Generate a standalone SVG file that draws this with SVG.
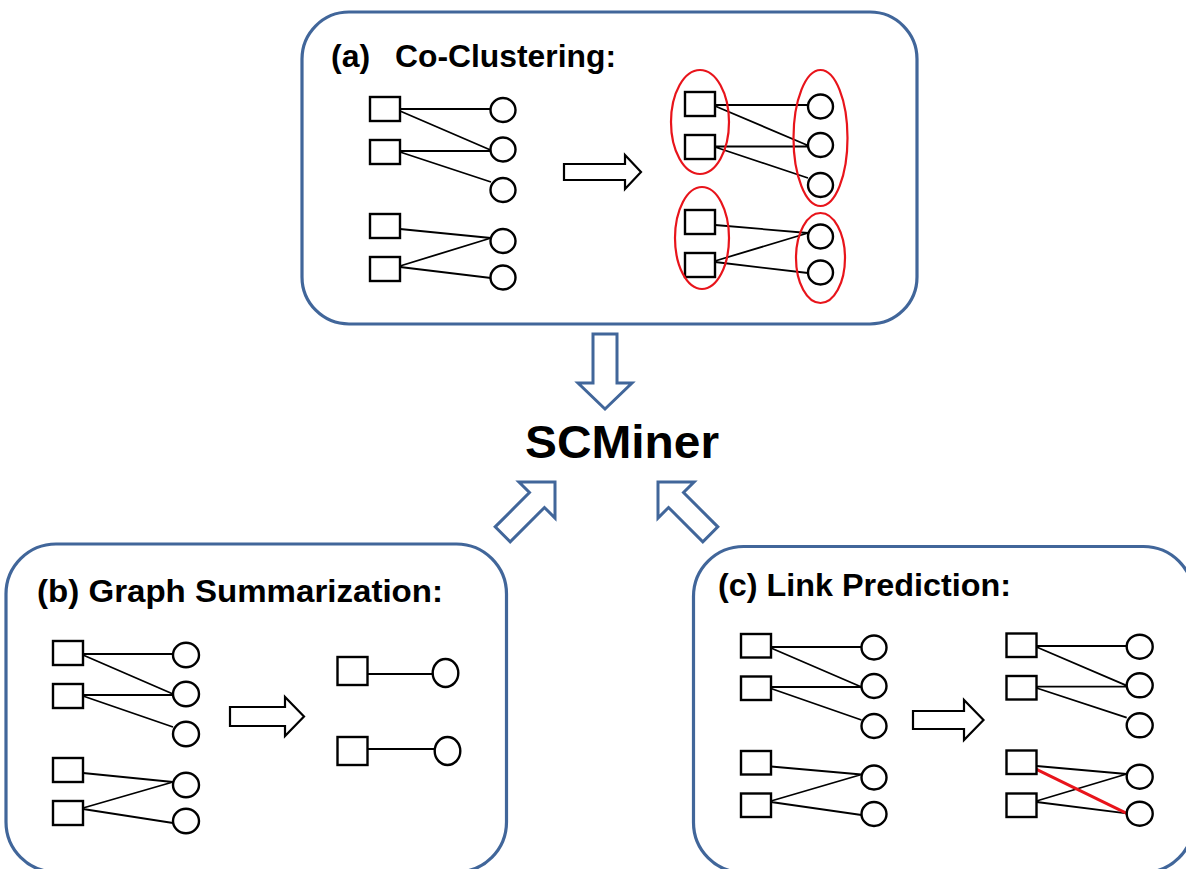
<svg xmlns="http://www.w3.org/2000/svg" width="1186" height="869" viewBox="0 0 1186 869">
<style>
.panel{fill:#fff;stroke:#41669a;stroke-width:3.2}
.sq{fill:#fff;stroke:#000;stroke-width:2.4}
.nd{fill:#fff;stroke:#000;stroke-width:2.4}
.ed{stroke:#000;stroke-width:1.8;fill:none}
.red{stroke:#e8141b;stroke-width:3;fill:none}
.cl{fill:none;stroke:#e8141b;stroke-width:2.2}
.arr{fill:#fff;stroke:#000;stroke-width:2.2;stroke-linejoin:miter}
.barr{fill:#fff;stroke:#41669a;stroke-width:3;stroke-linejoin:miter}
.t{font-family:"Liberation Sans",Arial,sans-serif;font-weight:bold;fill:#000}
</style>
<rect width="1186" height="869" fill="#fff"/>

<g id="panel-a">
<rect class="panel" x="302" y="12" width="615" height="312" rx="47"/>
<text class="t" x="331" y="67" font-size="32">(a)</text>
<text class="t" x="395" y="67" font-size="32" textLength="221" lengthAdjust="spacingAndGlyphs">Co-Clustering:</text>
<g id="a-left">
<path class="ed" d="M400,109H490.5M400,111L490.5,150M400,151H490.5M400,152L491,182M400,229L491,238M400,266L491,238M400,267L491,278"/>
<rect class="sq" x="370" y="97" width="30" height="24"/>
<rect class="sq" x="370" y="140" width="30" height="24"/>
<rect class="sq" x="370" y="214" width="30" height="24"/>
<rect class="sq" x="370" y="257" width="30" height="24"/>
<ellipse class="nd" cx="503" cy="110" rx="12.5" ry="12"/>
<ellipse class="nd" cx="503" cy="149.5" rx="12.5" ry="12"/>
<ellipse class="nd" cx="503" cy="190" rx="12.5" ry="12"/>
<ellipse class="nd" cx="503" cy="241" rx="12.5" ry="12"/>
<ellipse class="nd" cx="503" cy="277.5" rx="12.5" ry="12"/>
</g>
<polygon class="arr" points="564,164 625,164 625,155 641,172 625,189 625,180 564,180"/>
<g id="a-right">
<path class="ed" d="M715,105H808M715,106L808,145.5M715,146.5H808M715,147L808,178M715,225L808,233M715,261L808,233M715,262L808,273"/>
<rect class="sq" x="685" y="92" width="30" height="24"/>
<rect class="sq" x="685" y="135" width="30" height="24"/>
<rect class="sq" x="685" y="210" width="30" height="24"/>
<rect class="sq" x="685" y="253" width="30" height="24"/>
<ellipse class="nd" cx="820.5" cy="106.5" rx="12.5" ry="12"/>
<ellipse class="nd" cx="820.5" cy="145" rx="12.5" ry="12"/>
<ellipse class="nd" cx="820.5" cy="185" rx="12.5" ry="12"/>
<ellipse class="nd" cx="820.5" cy="236.5" rx="12.5" ry="12"/>
<ellipse class="nd" cx="820.5" cy="272.5" rx="12.5" ry="12"/>
<ellipse class="cl" cx="700" cy="122" rx="29" ry="52"/>
<ellipse class="cl" cx="820.5" cy="138" rx="27" ry="68"/>
<ellipse class="cl" cx="702" cy="238" rx="27" ry="51"/>
<ellipse class="cl" cx="820.5" cy="258" rx="24.5" ry="45"/>
</g>
</g>

<g id="panel-b">
<rect class="panel" x="6" y="544" width="500.5" height="328" rx="50"/>
<text class="t" x="37" y="602" font-size="32" textLength="406" lengthAdjust="spacingAndGlyphs">(b) Graph Summarization:</text>
<g id="b-left">
<path class="ed" d="M83,654H173M83,655L173,694M83,695H173M83,696L173,727M83,773L173,782M83,808L173,782M83,809L173,823"/>
<rect class="sq" x="53" y="641" width="30" height="24"/>
<rect class="sq" x="53" y="684" width="30" height="24"/>
<rect class="sq" x="53" y="758" width="30" height="24"/>
<rect class="sq" x="53" y="801" width="30" height="24"/>
<ellipse class="nd" cx="186" cy="655" rx="13" ry="12.3"/>
<ellipse class="nd" cx="186" cy="694" rx="13" ry="12.3"/>
<ellipse class="nd" cx="186" cy="734" rx="13" ry="12.3"/>
<ellipse class="nd" cx="186" cy="785" rx="13" ry="12.3"/>
<ellipse class="nd" cx="186" cy="821" rx="13" ry="12.3"/>
</g>
<polygon class="arr" points="230,707 285,707 285,697 304,716.5 285,736 285,726 230,726"/>
<g id="b-right">
<path class="ed" d="M367.5,674H432.7M367.5,749H434.7"/>
<rect class="sq" x="337.5" y="657" width="30" height="28"/>
<rect class="sq" x="337.5" y="737" width="30" height="28"/>
<ellipse class="nd" cx="445.5" cy="673" rx="12.8" ry="14"/>
<ellipse class="nd" cx="447.5" cy="751" rx="12.8" ry="14"/>
</g>
</g>

<g id="panel-c">
<rect class="panel" x="693.5" y="546.5" width="500" height="326" rx="50"/>
<text class="t" x="718" y="596" font-size="32" textLength="293" lengthAdjust="spacingAndGlyphs">(c) Link Prediction:</text>
<g id="c-left">
<path class="ed" d="M771,647H861.5M771,648L861.5,687M771,687H861.5M771,688.5L861.5,720M771,766.5L861.5,774.5M771,801L861.5,774.5M771,802L861.5,815"/>
<rect class="sq" x="741" y="634" width="30" height="23.5"/>
<rect class="sq" x="741" y="676.5" width="30" height="23.5"/>
<rect class="sq" x="741" y="751" width="30" height="23.5"/>
<rect class="sq" x="741" y="793.5" width="30" height="23.5"/>
<ellipse class="nd" cx="874" cy="647.5" rx="12.5" ry="12"/>
<ellipse class="nd" cx="874" cy="686" rx="12.5" ry="12"/>
<ellipse class="nd" cx="874" cy="726" rx="12.5" ry="12"/>
<ellipse class="nd" cx="874" cy="777.5" rx="12.5" ry="12"/>
<ellipse class="nd" cx="874" cy="814" rx="12.5" ry="12"/>
</g>
<polygon class="arr" points="913,711 964,711 964,700 983.5,720 964,740 964,729 913,729"/>
<g id="c-right">
<path class="ed" d="M1036.5,646H1126.7M1036.5,647L1126.7,685.7M1036.5,686.7H1126.7M1036.5,688L1126.7,717.7M1036.5,766L1126.7,774M1036.5,801L1126.7,774M1036.5,802L1126.7,813.3"/>
<path class="red" d="M1036.5,769.3L1126.7,813.3"/>
<rect class="sq" x="1006.5" y="633.5" width="30" height="23.5"/>
<rect class="sq" x="1006.5" y="676" width="30" height="23.5"/>
<rect class="sq" x="1006.5" y="750.5" width="30" height="23.5"/>
<rect class="sq" x="1006.5" y="793.5" width="30" height="23.5"/>
<ellipse class="nd" cx="1139.7" cy="646.7" rx="13" ry="12"/>
<ellipse class="nd" cx="1139.7" cy="685.3" rx="13" ry="12"/>
<ellipse class="nd" cx="1139.7" cy="725.3" rx="13" ry="12"/>
<ellipse class="nd" cx="1139.7" cy="776.7" rx="13" ry="12"/>
<ellipse class="nd" cx="1139.7" cy="813.7" rx="13" ry="12"/>
</g>
</g>

<g id="scminer">
<text class="t" x="525" y="458" font-size="46" textLength="194" lengthAdjust="spacingAndGlyphs">SCMiner</text>
</g>

<g id="connectors">
<polygon class="barr" points="593,334 617,334 617,383 632,383 605,409 578,383 593,383"/>
<polygon class="barr" transform="translate(555,482) rotate(-45)" points="0,0 -25.5,-25.5 -25.5,-10.6 -74,-10.6 -74,10.6 -25.5,10.6 -25.5,25.5"/>
<polygon class="barr" transform="translate(658,482) rotate(-135)" points="0,0 -25.5,-25.5 -25.5,-10.6 -74,-10.6 -74,10.6 -25.5,10.6 -25.5,25.5"/>
</g>
</svg>
